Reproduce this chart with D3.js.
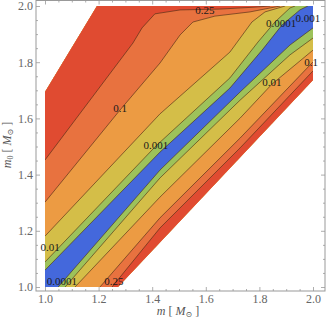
<!DOCTYPE html>
<html>
<head>
<meta charset="utf-8">
<script src="https://cdn.jsdelivr.net/npm/d3@7"></script>
<style>
  body { margin: 0; background: #fff; }
  svg { display: block; }
</style>
</head>
<body>
<div id="chart"></div>
<script>
// contour levels, from the blue band outwards
var levels = ["0.0001", "0.001", "0.01", "0.1", "0.25"];

// outline of the region where the function is defined (m, m_b)
var regionM  = [1.0, 1.0,   1.194, 2.0, 2.0,   1.272];
var regionMb = [1.0, 1.694, 2.0,   2.0, 1.737, 1.0];

// contour lines on the upper-left side of the band, one per level
var upperLines = [
  [[1.0, 1.060], [1.429, 1.480], [1.690, 1.708], [1.810, 1.843], [1.884, 1.932], [1.951, 1.986], [1.981, 2.0]],
  [[1.0, 1.089], [1.414, 1.502], [1.690, 1.744], [1.795, 1.872], [1.858, 1.943], [1.914, 1.993], [1.933, 2.0]],
  [[1.0, 1.181], [1.429, 1.616], [1.690, 1.836], [1.772, 1.943], [1.821, 1.979], [1.896, 2.0]],
  [[1.0, 1.302], [1.280, 1.630], [1.429, 1.797], [1.504, 1.897], [1.552, 1.943], [1.634, 1.964], [1.765, 1.979], [1.840, 1.993], [1.877, 2.0]],
  [[1.0, 1.452], [1.328, 1.868], [1.362, 1.922], [1.410, 1.972], [1.504, 1.986], [1.653, 1.989], [1.784, 1.996], [1.840, 2.0]]
];

// contour lines on the lower-right side of the band, one per level
var lowerLines = [
  [[1.049, 1.0], [1.429, 1.416], [1.728, 1.694], [1.914, 1.861], [2.0, 1.922]],
  [[1.075, 1.0], [1.429, 1.388], [1.728, 1.665], [1.914, 1.826], [2.0, 1.886]],
  [[1.112, 1.0], [1.429, 1.320], [1.728, 1.601], [1.847, 1.722], [2.0, 1.843]],
  [[1.205, 1.0], [1.429, 1.246], [1.728, 1.530], [2.0, 1.801]],
  [[1.250, 1.0], [1.429, 1.210], [1.728, 1.495], [2.0, 1.769]]
];

// contour labels as printed on the plot
var labelText = ["0.1", "0.001", "0.25", "0.0001", "0.001", "0.1", "0.01", "0.01", "0.0001", "0.25"];
var labelM    = [1.280, 1.414, 1.597, 1.881, 1.981, 1.993, 1.847, 1.019, 1.063, 1.257];
var labelMb   = [1.637, 1.505, 1.986, 1.940, 1.957, 1.801, 1.730, 1.142, 1.021, 1.021];

var majorTicks = [1.0, 1.2, 1.4, 1.6, 1.8, 2.0];

// band colours: below 0.0001, then one per level going outwards
var bandColors = ["#4468dc", "#9dc25a", "#d4be48", "#ec9b43", "#e8723f", "#e04b31"];

var svgWidth = 327;
var svgHeight = 325;
var frame = { left: 36, right: 325, top: 0.5, bottom: 291 };

var x = d3.scaleLinear().domain([1, 2]).range([45, 313]);
var y = d3.scaleLinear().domain([1, 2]).range([287, 6]);

var svg = d3.select("#chart")
  .append("svg")
  .attr("width", svgWidth)
  .attr("height", svgHeight);

var region = regionM.map((m, i) => [m, regionMb[i]]);
var line = d3.line().x(d => x(d[0])).y(d => y(d[1]));

svg.append("clipPath")
  .attr("id", "region")
  .append("path")
  .attr("d", line(region) + "Z");

var plot = svg.append("g").attr("clip-path", "url(#region)");

// fill whole region with the lowest band, then paint outward bands on top
plot.append("path")
  .attr("d", line(region) + "Z")
  .attr("fill", bandColors[0]);

upperLines.forEach(function(pts, i) {
  var last = pts[pts.length - 1];
  var poly = pts.concat([[last[0], 2.3], [0.7, 2.3], [0.7, pts[0][1]]]);
  plot.append("path").attr("d", line(poly) + "Z").attr("fill", bandColors[i + 1]);
});

lowerLines.forEach(function(pts, i) {
  var last = pts[pts.length - 1];
  var poly = pts.concat([[2.3, last[1]], [2.3, 0.7], [pts[0][0], 0.7]]);
  plot.append("path").attr("d", line(poly) + "Z").attr("fill", bandColors[i + 1]);
});

// contour lines
upperLines.concat(lowerLines).forEach(function(pts) {
  plot.append("path")
    .attr("d", line(pts))
    .attr("fill", "none")
    .attr("stroke", "rgba(70,40,20,0.75)")
    .attr("stroke-width", 0.8);
});

// contour labels
svg.append("g").selectAll("text")
  .data(labelText)
  .enter()
  .append("text")
  .attr("x", (d, i) => x(labelM[i]))
  .attr("y", (d, i) => y(labelMb[i]))
  .attr("text-anchor", "middle")
  .attr("dominant-baseline", "central")
  .attr("font-family", "'Liberation Serif', 'DejaVu Serif', serif")
  .attr("font-size", 11)
  .attr("fill", "#1a1a1a")
  .text(d => d);

// frame
svg.append("rect")
  .attr("x", frame.left)
  .attr("y", frame.top)
  .attr("width", frame.right - frame.left)
  .attr("height", frame.bottom - frame.top)
  .attr("fill", "none")
  .attr("stroke", "#999")
  .attr("stroke-width", 1);

var minorTicks = d3.range(0, 21).map(i => 1 + i * 0.05)
  .filter(v => majorTicks.every(t => Math.abs(t - v) > 1e-6));

function drawAxis(axisFn, scale, transform, values, size, fmt) {
  var g = svg.append("g")
    .attr("transform", transform)
    .call(axisFn(scale).tickValues(values).tickSize(size).tickSizeOuter(0).tickPadding(3).tickFormat(fmt));
  g.select(".domain").remove();
  g.selectAll("line").attr("stroke", "#999").attr("stroke-width", 0.8);
  g.selectAll("text")
    .attr("font-family", "'Liberation Serif', 'DejaVu Serif', serif")
    .attr("font-size", 12)
    .attr("fill", "#666");
  return g;
}

var fmt = d3.format(".1f");
var none = () => "";
drawAxis(d3.axisBottom, x, `translate(0, ${frame.bottom})`, majorTicks, -4, fmt);
drawAxis(d3.axisBottom, x, `translate(0, ${frame.bottom})`, minorTicks, -2, none);
drawAxis(d3.axisTop, x, `translate(0, ${frame.top})`, majorTicks, -4, none);
drawAxis(d3.axisTop, x, `translate(0, ${frame.top})`, minorTicks, -2, none);
drawAxis(d3.axisLeft, y, `translate(${frame.left}, 0)`, majorTicks, -4, fmt);
drawAxis(d3.axisLeft, y, `translate(${frame.left}, 0)`, minorTicks, -2, none);
drawAxis(d3.axisRight, y, `translate(${frame.right}, 0)`, majorTicks, -4, none);
drawAxis(d3.axisRight, y, `translate(${frame.right}, 0)`, minorTicks, -2, none);

// axis titles
var xTitle = svg.append("text")
  .attr("x", 178)
  .attr("y", 315)
  .attr("text-anchor", "middle")
  .attr("font-family", "'Liberation Serif', 'DejaVu Serif', serif")
  .attr("font-size", 12)
  .attr("fill", "#555");
xTitle.append("tspan").attr("font-style", "italic").text("m");
xTitle.append("tspan").text(" [ ");
xTitle.append("tspan").attr("font-style", "italic").text("M");
xTitle.append("tspan").attr("font-size", 8).attr("dy", 2).text("\u2299");
xTitle.append("tspan").attr("dy", -2).text(" ]");

var yTitle = svg.append("text")
  .attr("transform", "translate(11, 145) rotate(-90)")
  .attr("text-anchor", "middle")
  .attr("font-family", "'Liberation Serif', 'DejaVu Serif', serif")
  .attr("font-size", 12)
  .attr("fill", "#555");
yTitle.append("tspan").attr("font-style", "italic").text("m");
yTitle.append("tspan").attr("font-size", 8).attr("dy", 2).text("0");
yTitle.append("tspan").attr("dy", -2).text(" [ ");
yTitle.append("tspan").attr("font-style", "italic").text("M");
yTitle.append("tspan").attr("font-size", 8).attr("dy", 2).text("\u2299");
yTitle.append("tspan").attr("dy", -2).text(" ]");
</script>
</body>
</html>
